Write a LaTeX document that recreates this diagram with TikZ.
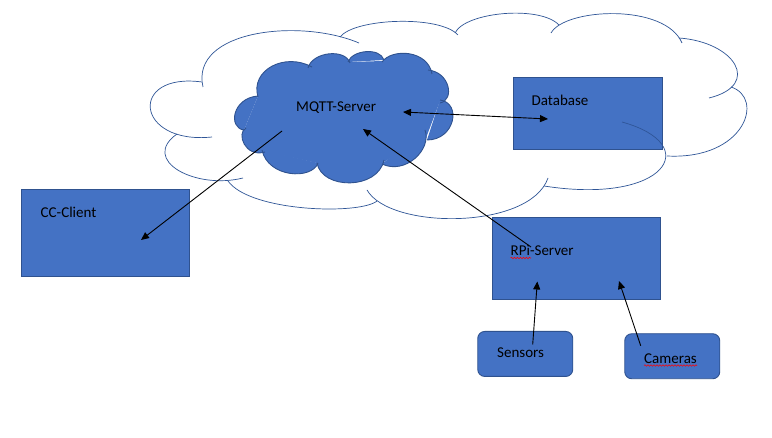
\documentclass[tikz,border=0pt]{standalone}
\usepackage{fontspec}
\setmainfont{Carlito}
\usetikzlibrary{arrows.meta,decorations.pathmorphing}
\definecolor{boxfill}{HTML}{4472C4}
\definecolor{boxline}{HTML}{2F528F}
\definecolor{cloudline}{HTML}{2F5597}
\tikzset{
  blockbox/.style={draw=boxline, fill=boxfill, line width=0.9pt, inner sep=0pt, anchor=north west},
  lbl/.style={anchor=base west, inner sep=0pt, text=black, font=\fontsize{15pt}{18pt}\selectfont},
  conn/.style={draw=black, line width=0.9pt, -{Triangle[length=8pt,width=7pt]}},
  bothconn/.style={draw=black, line width=0.9pt, {Triangle[length=8pt,width=7pt]}-{Triangle[length=8pt,width=7pt]}},
  spell/.style={draw=red, line width=0.6pt, decorate, decoration={snake, amplitude=0.7pt, segment length=3pt}},
  bigcloud/.style={draw=cloudline, line width=0.7pt},
  mqttline/.style={draw=boxline, line width=0.9pt},
}
\begin{document}
\begin{tikzpicture}[x=1pt,y=-1pt]
\useasboundingbox (0,0) rectangle (772,438);
\fill[white] (0,0) rectangle (772,438);

% boxes
\node[blockbox, minimum width=168pt, minimum height=87.5pt] (cc) at (20.5,189) {};
\node[blockbox, minimum width=148.5pt, minimum height=72pt] (db) at (513.3,77.3) {};
\node[blockbox, minimum width=167.7pt, minimum height=82pt] (rpi) at (492.3,217.3) {};
\node[blockbox, rounded corners=7pt, minimum width=95pt, minimum height=45pt] (sens) at (477.3,331) {};
\node[blockbox, rounded corners=7pt, minimum width=95pt, minimum height=45pt] (cam) at (624.3,333.3) {};

% big cloud (outline only, drawn over the database box)
\draw[bigcloud] (212,137) .. controls (135,145) and (128,72) .. (202,82);
\draw[bigcloud] (203,87) .. controls (190,30) and (300,18) .. (359,43);
\draw[bigcloud] (340,37) .. controls (355,18) and (440,15) .. (458,35);
\draw[bigcloud] (455,33) .. controls (465,12) and (540,5) .. (559,25);
\draw[bigcloud] (551,33) .. controls (565,8) and (665,3) .. (682,43);
\draw[bigcloud] (679,38) .. controls (735,42) and (762,85) .. (709,98);
\draw[bigcloud] (731,87) .. controls (765,98) and (745,160) .. (667,156);
\draw[bigcloud] (622,122) .. controls (705,145) and (665,205) .. (544,186);
\draw[bigcloud] (548,178) .. controls (530,230) and (390,230) .. (367,190);
\draw[bigcloud] (377,201) .. controls (360,215) and (250,212) .. (228,181);
\draw[bigcloud] (243,178) .. controls (195,190) and (140,160) .. (177,134);

% MQTT cloud: fill
\fill[boxfill] (244,130) -- (258,96) -- (310,67) -- (349,62) -- (383,61) -- (430,72)
  -- (440,101) -- (426,138) -- (382,163) -- (317,163) -- (263,151) -- (246,129) -- cycle;
\fill[boxfill] (244,130) .. controls (228,128) and (232,98) .. (258,96) -- cycle;
\fill[boxfill] (258,97) .. controls (250,70) and (285,52) .. (312,67) -- cycle;
\fill[boxfill] (308,68) .. controls (312,52) and (345,48) .. (350,63) -- cycle;
\fill[boxfill] (348,62) .. controls (352,50) and (380,47) .. (384,60) -- cycle;
\fill[boxfill] (382,62) .. controls (392,48) and (428,50) .. (432,74) -- cycle;
\fill[boxfill] (428,70) .. controls (450,72) and (455,100) .. (440,103) -- cycle;
\fill[boxfill] (440,100) .. controls (462,103) and (455,140) .. (427,140) -- cycle;
\fill[boxfill] (425,130) .. controls (432,150) and (405,175) .. (382,164) -- cycle;
\fill[boxfill] (384,160) .. controls (378,190) and (322,190) .. (317,163) -- cycle;
\fill[boxfill] (318,163) .. controls (312,180) and (268,178) .. (262,150) -- cycle;
\fill[boxfill] (265,152) .. controls (245,158) and (236,133) .. (246,128) -- cycle;
% MQTT cloud: outline
\draw[mqttline] (244,130) .. controls (228,128) and (232,98) .. (258,96);
\draw[mqttline] (258,97) .. controls (250,70) and (285,52) .. (312,67);
\draw[mqttline] (308,68) .. controls (312,52) and (345,48) .. (350,63);
\draw[mqttline] (348,62) .. controls (352,50) and (380,47) .. (384,60);
\draw[mqttline] (382,62) .. controls (392,48) and (428,50) .. (432,74);
\draw[mqttline] (428,70) .. controls (450,72) and (455,100) .. (440,103);
\draw[mqttline] (440,100) .. controls (462,103) and (455,140) .. (427,140);
\draw[mqttline] (425,130) .. controls (432,150) and (405,175) .. (382,164);
\draw[mqttline] (384,160) .. controls (378,190) and (322,190) .. (317,163);
\draw[mqttline] (318,163) .. controls (312,180) and (268,178) .. (262,150);
\draw[mqttline] (265,152) .. controls (245,158) and (236,133) .. (246,128);

% labels
\node[lbl] (mqttT) at (296,112) {MQTT-Server};
\node[lbl] (dbT) at (531.5,106) {Database};
\node[lbl] (ccT) at (40.5,218) {CC-Client};
\node[lbl] (rpiT) at (510.5,255.5) {RPi-Server};
\node[lbl] (sensT) at (497,358) {Sensors};
\node[lbl] (camT) at (644,363.5) {Cameras};

% spell-check underlines
\draw[spell] (510.5,258) -- (531,258);
\draw[spell] (644,365.5) -- (697,365.5);

% connector end points
\coordinate (mqCC) at (282,131);
\coordinate (ccIn) at (141,240);
\coordinate (mqDB) at (403,112);
\coordinate (dbIn) at (548,119);
\coordinate (rpiOut) at (531,247);
\coordinate (mqRPi) at (363,129);
\coordinate (sensOut) at (532.7,344.5);
\coordinate (rpiS) at (537.3,281.5);
\coordinate (camOut) at (640.7,345.7);
\coordinate (rpiC) at (619,281);

% connectors
\draw[conn] (mqCC) -- (ccIn);
\draw[bothconn] (mqDB) -- (dbIn);
\draw[conn] (rpiOut) -- (mqRPi);
\draw[conn] (sensOut) -- (rpiS);
\draw[conn] (camOut) -- (rpiC);
\end{tikzpicture}
\end{document}
